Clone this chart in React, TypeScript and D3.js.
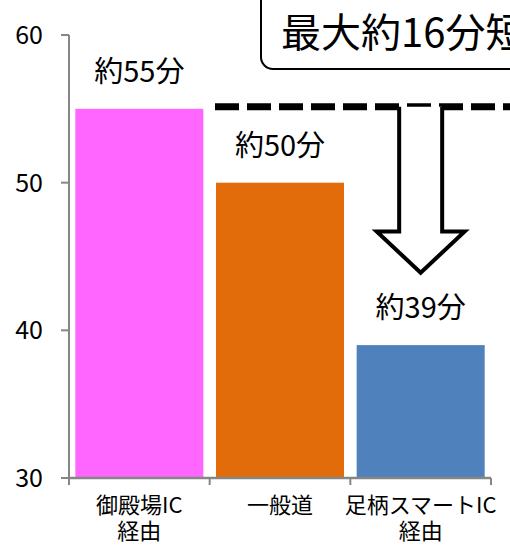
import React from "react";
import * as d3 from "d3";

const categories = ["御殿場IC\n経由", "一般道", "足柄スマートIC\n経由"];
const values = [55, 50, 39];
const valueLabels = ["約55分", "約50分", "約39分"];
const colors = ["#FF66FF", "#E36C0A", "#4F81BD"];
const yTicks = [30, 40, 50, 60];
const title = "最大約16分短縮";

const W = 510;
const H = 545;
const FONT = "'Noto Sans CJK JP', 'Noto Sans', sans-serif";

export default function App() {
  const x = d3.scaleBand<string>().domain(categories).range([69, 491]).padding(0);
  const y = d3.scaleLinear().domain([30, 60]).range([478, 35]);
  const barW = x.bandwidth() * 0.91;
  const axisColor = "#868686";

  const cx3 = (x(categories[2]) as number) + x.bandwidth() / 2;
  const yTop = y(values[0]) - 2;
  const shaftHalf = 21.5;
  const headHalf = 44;
  const headY = y(46.7);
  const tipY = y(43.9);
  const arrowPath = [
    [cx3 - shaftHalf, yTop],
    [cx3 - shaftHalf, headY],
    [cx3 - headHalf, headY],
    [cx3, tipY],
    [cx3 + headHalf, headY],
    [cx3 + shaftHalf, headY],
    [cx3 + shaftHalf, yTop],
  ];
  const arrowD = d3.line()(arrowPath as [number, number][]) as string;

  return (
    <svg
      width={W}
      height={H}
      style={{ position: "absolute", left: 0, top: 0, background: "#fff" }}
      fontFamily={FONT}
    >
      <rect x={0} y={0} width={W} height={H} fill="#fff" />
      {/* y axis */}
      <line x1={69} x2={69} y1={y(60)} y2={y(30)} stroke={axisColor} strokeWidth={2} />
      {yTicks.map((t) => (
        <g key={t}>
          <line x1={61} x2={69} y1={y(t)} y2={y(t)} stroke={axisColor} strokeWidth={2} />
          <text x={43} y={y(t)} dy="0.36em" textAnchor="end" fontSize={25} fill="#000">
            {t}
          </text>
        </g>
      ))}
      {/* bars */}
      {categories.map((c, i) => {
        const bx = (x(c) as number) + (x.bandwidth() - barW) / 2;
        return (
          <rect
            key={c}
            x={bx}
            y={y(values[i])}
            width={barW}
            height={y(30) - y(values[i])}
            fill={colors[i]}
          />
        );
      })}
      {/* x axis */}
      <line x1={69} x2={491} y1={478} y2={478} stroke={axisColor} strokeWidth={2.5} />
      {categories.map((c) => (
        <line
          key={"t" + c}
          x1={x(c) as number}
          x2={x(c) as number}
          y1={478}
          y2={485}
          stroke={axisColor}
          strokeWidth={2}
        />
      ))}
      <line x1={491} x2={491} y1={478} y2={485} stroke={axisColor} strokeWidth={2} />
      {categories.map((c) => {
        const lines = c.split("\n");
        const cx = (x(c) as number) + x.bandwidth() / 2;
        return (
          <text key={"l" + c} textAnchor="middle" fontSize={22} fill="#000">
            {lines.map((l, j) => (
              <tspan key={j} x={cx} y={513 + j * 26}>
                {l}
              </tspan>
            ))}
          </text>
        );
      })}
      {/* value labels */}
      {categories.map((c, i) => {
        const cx = (x(c) as number) + x.bandwidth() / 2;
        return (
          <text
            key={"v" + c}
            x={cx}
            y={y(values[i]) - 27}
            textAnchor="middle"
            fontSize={29}
            fill="#000"
          >
            {valueLabels[i]}
          </text>
        );
      })}
      {/* dashed reference line */}
      <line
        x1={215}
        x2={W + 10}
        y1={yTop}
        y2={yTop}
        stroke="#000"
        strokeWidth={7}
        strokeDasharray="24,8"
      />
      {/* arrow */}
      <path d={arrowD} fill="#fff" stroke="#000" strokeWidth={4} strokeLinejoin="miter" />
      {/* title box */}
      <rect x={261} y={-30} width={300} height={99} rx={12} ry={12} fill="#fff" stroke="#000" strokeWidth={2} />
      <text x={281} y={47} fontSize={40} fill="#000">
        {title}
      </text>
    </svg>
  );
}
